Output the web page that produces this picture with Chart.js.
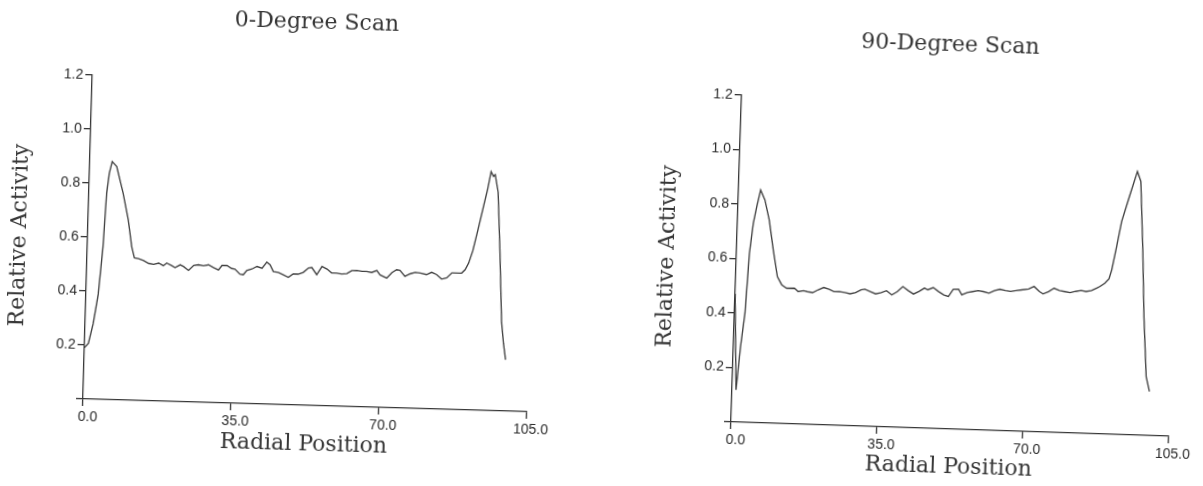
<!DOCTYPE html>
<html lang="en">
  <head>
    <meta charset="UTF-8" />
    <title>Radial Scans</title>
    <script src="https://cdn.jsdelivr.net/npm/chart.js"></script>
    <style>
      html,
      body {
        margin: 0;
        padding: 0;
        background: #ffffff;
        overflow: hidden;
      }
      body {
        position: relative;
        width: 1203px;
        height: 486px;
      }
      .scan {
        position: absolute;
        top: 0;
        height: 486px;
      }
      .scan canvas {
        display: block;
      }
      /* the scanned page sits a little tilted (clockwise) */
      #scan0 {
        left: 0;
        width: 612px;
        transform-origin: 83px 399px;
        transform: rotate(1.65deg);
      }
      #scan90 {
        left: 640px;
        width: 596px;
        transform-origin: 91px 422px;
        transform: rotate(1.87deg);
      }
    </style>
  </head>
  <body>
    <div id="scan0" class="scan"><canvas id="chart0" width="612" height="486"></canvas></div>
    <div id="scan90" class="scan"><canvas id="chart90" width="596" height="486"></canvas></div>

    <script>
      // ---- data ----
      var xTicks = [0, 35, 70, 105];
      var yTicks = [0, 0.2, 0.4, 0.6, 0.8, 1.0, 1.2];

      // 0-degree scan
      var pos0 = [
        0.0, 0.9, 1.9, 2.9, 3.7, 4.2, 4.7, 5.3, 6.4, 8.1, 9.5, 10.5, 11.2, 12.2,
        13.4, 14.6, 15.8, 17.0, 18.1, 18.9, 20.1, 20.9, 22.1, 22.9, 24.1, 25.3,
        26.4, 27.6, 28.8, 30.0, 31.2, 32.0, 33.2, 34.3, 35.1, 36.3, 37.1, 37.9,
        39.1, 40.3, 41.5, 42.6, 43.4, 44.2, 45.4, 46.6, 47.8, 48.9, 50.1, 51.3,
        52.5, 53.3, 54.5, 55.7, 56.9, 58.0, 59.2, 60.4, 61.6, 62.8, 64.0, 65.2,
        66.3, 67.5, 68.7, 69.5, 71.1, 72.3, 73.4, 74.2, 75.4, 76.6, 77.8, 79.0,
        80.5, 81.7, 82.9, 84.1, 85.3, 86.5, 87.7, 88.8, 89.6, 90.4, 91.3, 92.4,
        93.6, 94.4, 95.1, 95.7, 96.1, 96.9, 97.7, 98.6, 99.2, 99.8,
      ];
      var act0 = [
        0.19, 0.207, 0.28, 0.39, 0.566, 0.764, 0.839, 0.882, 0.864, 0.766, 0.668,
        0.569, 0.528, 0.525, 0.519, 0.509, 0.506, 0.511, 0.502, 0.512, 0.503,
        0.496, 0.507, 0.501, 0.487, 0.506, 0.509, 0.506, 0.51, 0.5, 0.492, 0.509,
        0.509, 0.499, 0.497, 0.479, 0.477, 0.493, 0.499, 0.509, 0.503, 0.526,
        0.517, 0.492, 0.489, 0.481, 0.472, 0.485, 0.485, 0.492, 0.509, 0.511,
        0.485, 0.516, 0.507, 0.493, 0.493, 0.49, 0.492, 0.504, 0.505, 0.502,
        0.502, 0.499, 0.507, 0.491, 0.48, 0.501, 0.512, 0.51, 0.488, 0.498, 0.504,
        0.502, 0.497, 0.506, 0.498, 0.482, 0.487, 0.506, 0.506, 0.506, 0.519,
        0.544, 0.59, 0.67, 0.76, 0.82, 0.885, 0.868, 0.874, 0.81, 0.6, 0.33, 0.25,
        0.19,
      ];

      // 90-degree scan
      var pos90 = [
        0.0, 0.95, 1.7, 2.5, 3.1, 3.8, 4.5, 5.3, 6.4, 7.6, 8.8, 10.0, 11.1, 12.3,
        14.2, 15.1, 16.4, 17.3, 18.6, 19.9, 21.2, 22.5, 23.7, 25.0, 26.3, 27.6,
        28.9, 30.2, 31.1, 32.4, 33.7, 35.0, 36.3, 37.6, 38.9, 40.2, 41.5, 42.8,
        44.1, 45.4, 46.2, 47.5, 48.8, 50.1, 51.2, 52.3, 53.6, 54.4, 55.7, 57.0,
        58.3, 59.6, 60.9, 62.2, 63.5, 64.8, 66.1, 67.4, 68.7, 70.4, 71.7, 73.0,
        73.9, 75.2, 76.5, 77.8, 79.1, 80.4, 81.7, 83.0, 84.2, 85.5, 86.8, 87.5,
        88.6, 89.6, 90.2, 91.2, 92.2, 94.0, 95.6, 96.5, 97.5, 98.3, 99.3, 100.2,
      ];
      var act90 = [
        0.47, 0.118, 0.277, 0.4, 0.62, 0.731, 0.793, 0.854, 0.818, 0.745, 0.636,
        0.538, 0.509, 0.497, 0.498, 0.486, 0.49, 0.487, 0.484, 0.495, 0.504,
        0.498, 0.49, 0.491, 0.488, 0.484, 0.489, 0.5, 0.503, 0.495, 0.487, 0.492,
        0.5, 0.485, 0.498, 0.517, 0.503, 0.491, 0.501, 0.514, 0.508, 0.517, 0.503,
        0.491, 0.486, 0.513, 0.514, 0.494, 0.503, 0.507, 0.511, 0.508, 0.503,
        0.513, 0.519, 0.515, 0.512, 0.516, 0.519, 0.523, 0.533, 0.515, 0.507,
        0.516, 0.529, 0.521, 0.518, 0.515, 0.52, 0.524, 0.521, 0.525, 0.535,
        0.541, 0.553, 0.57, 0.603, 0.69, 0.782, 0.881, 0.967, 0.931, 0.681, 0.436,
        0.216, 0.162,
      ];

      var INK = "#363636";
      var SERIF = "'DejaVu Serif', serif";
      var SANS = "'Liberation Sans', Arial, sans-serif";

      function fixWidth(w) {
        return function (scale) {
          scale.width = w;
        };
      }
      function fixHeight(h) {
        return function (scale) {
          scale.height = h;
        };
      }

      // box: sizes (px) that pin the plot area where the scan has it
      function makeChart(id, titleText, xs, ys, box) {
        var pts = xs.map(function (x, i) {
          return { x: x, y: ys[i] };
        });
        return new Chart(document.getElementById(id), {
          type: "line",
          data: {
            datasets: [
              {
                data: pts,
                borderColor: "#404040",
                borderWidth: 1.35,
                pointRadius: 0,
                tension: 0,
                fill: false,
              },
            ],
          },
          options: {
            responsive: false,
            animation: false,
            devicePixelRatio: 1,
            layout: { padding: 0 },
            plugins: {
              legend: { display: false },
              tooltip: { enabled: false },
              title: {
                display: true,
                text: titleText,
                color: INK,
                font: { family: SERIF, size: 22, weight: "normal", lineHeight: 1.2 },
                padding: { top: box.titleTop, bottom: box.titleBottom },
              },
            },
            scales: {
              x: {
                type: "linear",
                min: 0,
                max: 105,
                afterFit: fixHeight(box.xHeight),
                afterBuildTicks: function (scale) {
                  scale.ticks = xTicks.map(function (v) {
                    return { value: v };
                  });
                },
                border: { display: true, color: INK, width: 1.3 },
                grid: {
                  drawOnChartArea: false,
                  drawTicks: true,
                  tickLength: 7,
                  color: INK,
                  lineWidth: 1.3,
                },
                ticks: {
                  color: "#2a2a2a",
                  font: { family: SANS, size: 14 },
                  padding: 3,
                  labelOffset: 5,
                  maxRotation: 0,
                  callback: function (v) {
                    return v.toFixed(1);
                  },
                },
                title: {
                  display: true,
                  text: "Radial Position",
                  color: INK,
                  font: { family: SERIF, size: 22, lineHeight: 1.2 },
                  padding: { top: 0, bottom: box.xTitleBottom },
                },
              },
              y: {
                type: "linear",
                position: "left",
                min: 0,
                max: 1.2,
                afterFit: fixWidth(box.yWidth),
                afterBuildTicks: function (scale) {
                  scale.ticks = yTicks.map(function (v) {
                    return { value: v };
                  });
                },
                border: { display: true, color: INK, width: 1.3 },
                grid: {
                  drawOnChartArea: false,
                  drawTicks: true,
                  tickLength: 7,
                  color: INK,
                  lineWidth: 1.3,
                },
                ticks: {
                  color: "#2a2a2a",
                  font: { family: SANS, size: 14 },
                  padding: 2,
                  callback: function (v) {
                    return v === 0 ? "" : v.toFixed(1);
                  },
                },
                title: {
                  display: true,
                  text: "Relative Activity",
                  color: INK,
                  font: { family: SERIF, size: 22, lineHeight: 1.2 },
                  padding: { top: box.yTitleTop, bottom: 0 },
                },
              },
              // empty box on the right, only to keep the plot narrower than the title band
              spare: {
                type: "linear",
                position: "right",
                display: true,
                afterFit: fixWidth(box.rightWidth),
                border: { display: false },
                grid: { display: false },
                ticks: { display: false },
              },
            },
          },
        });
      }

      makeChart("chart0", "0-Degree Scan", pos0, act0, {
        yWidth: 83,
        xHeight: 87,
        rightWidth: 612 - 526.2,
        titleTop: 3.1,
        titleBottom: 45.4,
        yTitleTop: 2.1,
        xTitleBottom: 34.1,
      });

      makeChart("chart90", "90-Degree Scan", pos90, act90, {
        yWidth: 91,
        xHeight: 64,
        rightWidth: 596 - 528.2,
        titleTop: 24.7,
        titleBottom: 43.7,
        yTitleTop: 9.4,
        xTitleBottom: 12.9,
      });
    </script>
  </body>
</html>
